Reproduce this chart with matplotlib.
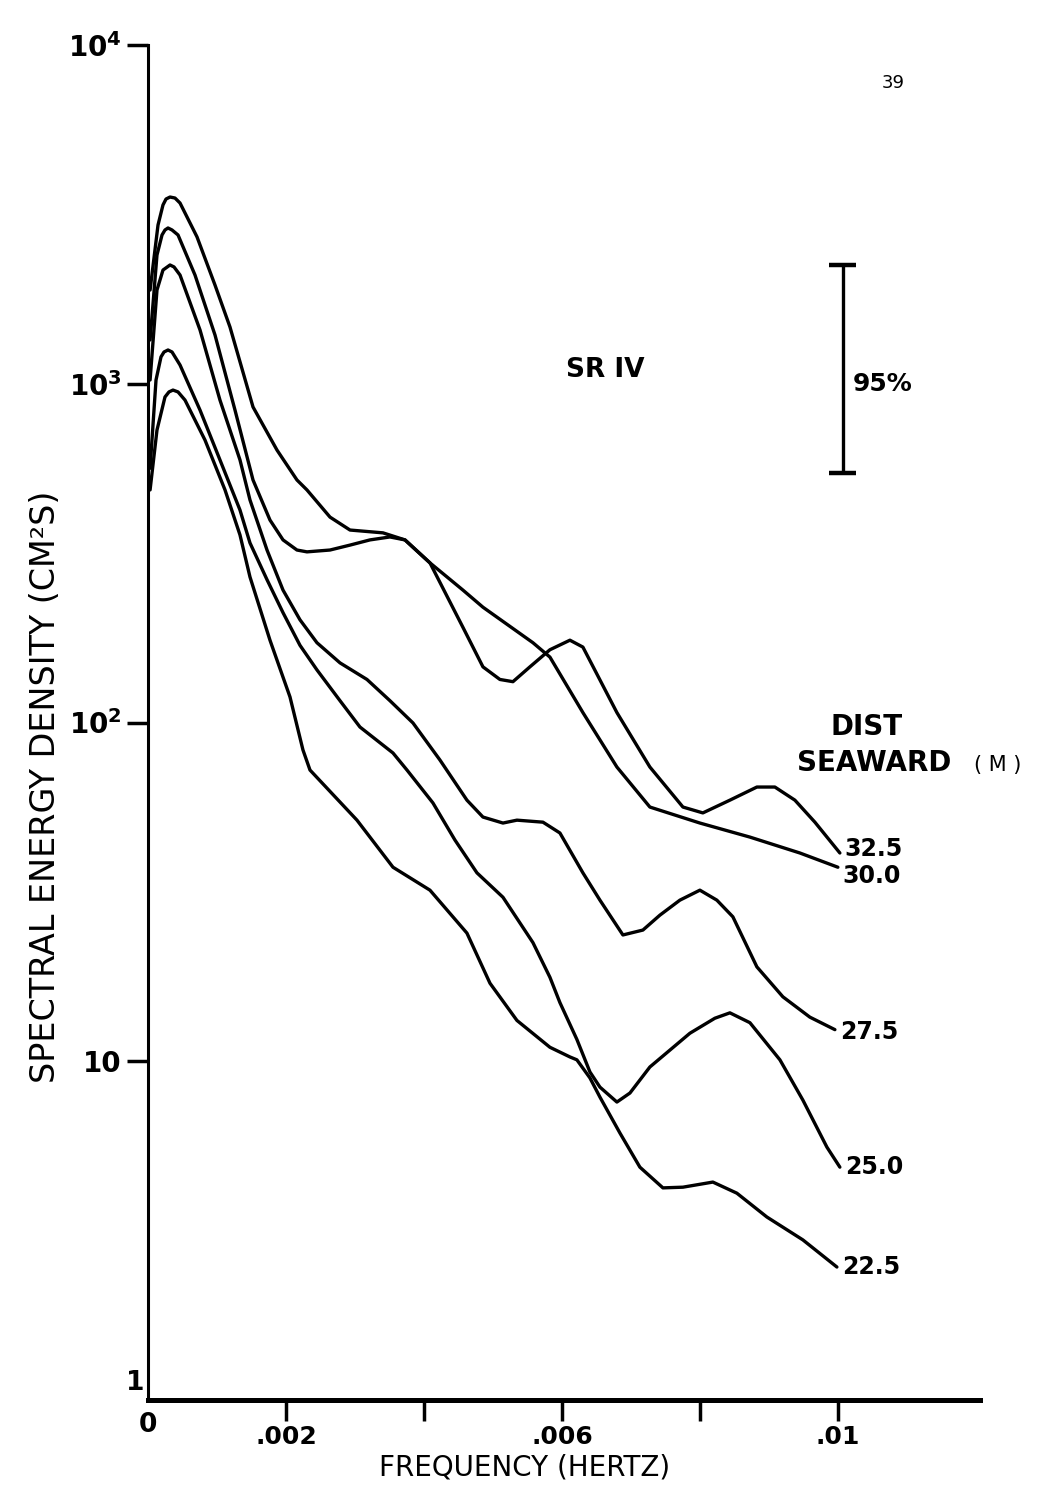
import matplotlib
matplotlib.use("Agg")
import matplotlib.pyplot as plt
from matplotlib.ticker import NullLocator

# spectra at each distance seaward (frequency in Hz, energy density in cm^2 s)
freq_325 = [0.00003, 0.00013, 0.000203, 0.000246, 0.00029, 0.000348, 0.000435, 0.000681, 0.000971,
            0.001261, 0.001522, 0.001768, 0.001957, 0.002159, 0.002304, 0.002638, 0.002928, 0.003217,
            0.003507, 0.003725, 0.004087, 0.004565, 0.004855, 0.005101, 0.00529, 0.005536, 0.005826,
            0.006116, 0.006304, 0.006797, 0.007275, 0.007754, 0.008043, 0.008435, 0.008826, 0.009087,
            0.009377, 0.009667, 0.010029]
dens_325 = [1347, 2399, 2749, 2844, 2883, 2844, 2749, 2094, 1393,
            836, 520, 396, 346, 323, 319, 323, 334, 346,
            353, 346, 296, 191, 146, 134, 132, 146, 164,
            175, 167, 107, 73.9, 56.3, 54.1, 59.0, 64.5, 64.5,
            59.0, 50.8, 41.2]

freq_300 = [0.00003, 0.000145, 0.000217, 0.000261, 0.000319, 0.000391, 0.000464, 0.00071, 0.000971,
            0.001188, 0.001522, 0.00187, 0.002159, 0.002304, 0.002638, 0.002928, 0.003406, 0.003725,
            0.004087, 0.004565, 0.004855, 0.00558, 0.005826, 0.006304, 0.006797, 0.007275, 0.008,
            0.008725, 0.009449, 0.01]
dens_300 = [1891, 2942, 3371, 3510, 3558, 3534, 3416, 2714, 1956,
            1471, 854, 637, 520, 486, 404, 370, 363, 346,
            296, 246, 219, 172, 156, 107, 73.9, 56.3, 50.5,
            45.9, 41.2, 37.4]

freq_275 = [0.00003, 0.00013, 0.000217, 0.000319, 0.000377, 0.000464, 0.000754, 0.001043, 0.001333,
            0.001478, 0.001725, 0.001957, 0.002203, 0.002449, 0.002783, 0.003174, 0.003507, 0.003841,
            0.004232, 0.004623, 0.004855, 0.005145, 0.005348, 0.005725, 0.005971, 0.006304, 0.006551,
            0.006884, 0.007174, 0.00742, 0.00771, 0.008, 0.008246, 0.008478, 0.008826, 0.009203,
            0.009594, 0.009957]
dens_275 = [1026, 1891, 2166, 2242, 2212, 2094, 1441, 895, 596,
            454, 323, 246, 201, 172, 150, 134, 116, 99.7,
            77.5, 59.0, 52.6, 50.5, 51.5, 50.8, 47.2, 36.0, 29.9,
            23.6, 24.4, 27.0, 29.9, 32.0, 29.9, 26.7, 19.0, 15.5,
            13.5, 12.4]

freq_250 = [0.00003, 0.000116, 0.000188, 0.000232, 0.00029, 0.000348, 0.000464, 0.000754, 0.001043,
            0.001333, 0.001478, 0.001725, 0.001957, 0.002203, 0.002449, 0.002783, 0.003072, 0.003551,
            0.003754, 0.00413, 0.004449, 0.004768, 0.005145, 0.00558, 0.005826, 0.005971, 0.006217,
            0.006406, 0.006551, 0.006797, 0.006986, 0.007275, 0.007855, 0.008217, 0.008435, 0.008725,
            0.00916, 0.009493, 0.009841, 0.010029]
dens_250 = [563, 1026, 1200, 1241, 1258, 1241, 1136, 836, 596,
            424, 339, 264, 211, 169, 143, 116, 97.0, 81.3,
            72.4, 57.9, 45.0, 36.0, 30.5, 22.4, 17.7, 14.9, 11.6,
            9.30, 8.39, 7.58, 8.06, 9.62, 12.1, 13.4, 13.9, 13.0,
            10.1, 7.68, 5.58, 4.87]

freq_225 = [0.00003, 0.00013, 0.000246, 0.000304, 0.000362, 0.000435, 0.000536, 0.000826, 0.001116,
            0.001333, 0.001478, 0.001768, 0.002058, 0.002246, 0.002348, 0.003029, 0.003551, 0.004087,
            0.004623, 0.004957, 0.005348, 0.005826, 0.006116, 0.006217, 0.006406, 0.006551, 0.006841,
            0.00713, 0.007464, 0.007754, 0.008188, 0.008536, 0.008971, 0.009493, 0.009986]
dens_225 = [486, 730, 914, 946, 958, 946, 895, 682, 486,
            358, 269, 175, 119, 83.0, 72.4, 51.5, 37.4, 32.0,
            23.9, 17.0, 13.2, 11.0, 10.3, 10.1, 8.93, 7.84, 6.14,
            4.87, 4.23, 4.25, 4.40, 4.08, 3.47, 2.97, 2.47]

dist_labels = ["32.5", "30.0", "27.5", "25.0", "22.5"]
label_shift = [4, -9, -2, 0, 0]   # vertical nudge of end labels, pixels

# 95% confidence band
ci_freq = 0.01007
ci_top = 2240
ci_bottom = 545

fig = plt.figure(figsize=(10.49, 14.85), dpi=100)
ax = fig.add_axes([0.1411, 0.0572, 0.7931, 0.9125])

curves = [(freq_325, dens_325), (freq_300, dens_300), (freq_275, dens_275),
          (freq_250, dens_250), (freq_225, dens_225)]

for (f, e), lab, dy in zip(curves, dist_labels, label_shift):
    ax.plot(f, e, color="black", lw=2.4, solid_joinstyle="round", solid_capstyle="round")
    ax.annotate(lab, xy=(f[-1], e[-1]), xytext=(5, dy), textcoords="offset pixels",
                ha="left", va="center", fontsize=17, fontweight="bold")

ax.set_yscale("log")
ax.set_ylim(1, 1e4)
ax.set_xlim(0, 0.01206)

for s in ["top", "right"]:
    ax.spines[s].set_visible(False)
ax.spines["left"].set_linewidth(2.2)
ax.spines["bottom"].set_linewidth(3.6)

ax.set_yticks([10, 100, 1000, 10000])
ax.set_yticklabels(["10", r"$\mathbf{10^2}$", r"$\mathbf{10^3}$", r"$\mathbf{10^4}$"])
ax.yaxis.set_minor_locator(NullLocator())
ax.set_xticks([0.002, 0.004, 0.006, 0.008, 0.01])
ax.set_xticklabels([".002", "", ".006", "", ".01"])
ax.tick_params(axis="y", direction="out", length=15, width=2.5, pad=4, labelsize=20)
ax.tick_params(axis="x", direction="out", length=15, width=2.5, pad=3, labelsize=18)
for t in ax.get_xticklabels() + ax.get_yticklabels():
    t.set_fontweight("bold")

# corner labels
ax.annotate("1", xy=(0, 1), xytext=(-4, 4), textcoords="offset pixels",
            ha="right", va="bottom", fontsize=19, fontweight="bold", annotation_clip=False)
ax.annotate("0", xy=(0, 1), xytext=(0, -12), textcoords="offset pixels",
            ha="center", va="top", fontsize=19, fontweight="bold", annotation_clip=False)

# confidence bar
ax.vlines(ci_freq, ci_bottom, ci_top, color="black", lw=2.4)
ax.hlines([ci_bottom, ci_top], ci_freq - 0.0002, ci_freq + 0.0002, color="black", lw=3.2)
ax.text(ci_freq + 0.00015, 1000, "95%", ha="left", va="center", fontsize=18, fontweight="bold")

ax.text(0.549, 0.760, "SR IV", transform=ax.transAxes, ha="center", va="center",
        fontsize=19, fontweight="bold")

ax.text(0.01042, 97, "DIST", ha="center", va="center", fontsize=20, fontweight="bold")
ax.text(0.009406, 76, "SEAWARD", ha="left", va="center", fontsize=20, fontweight="bold")
ax.text(0.01198, 75, "( M )", ha="left", va="center", fontsize=15)

fig.text(0.043, 0.470, "SPECTRAL ENERGY DENSITY (CM²S)", rotation=90,
         ha="center", va="center", fontsize=24)
fig.text(0.5005, 0.0115, "FREQUENCY (HERTZ)", ha="center", va="center", fontsize=20)
fig.text(0.851, 0.944, "39", ha="center", va="center", fontsize=13)

fig.savefig("out.png", dpi=100)
